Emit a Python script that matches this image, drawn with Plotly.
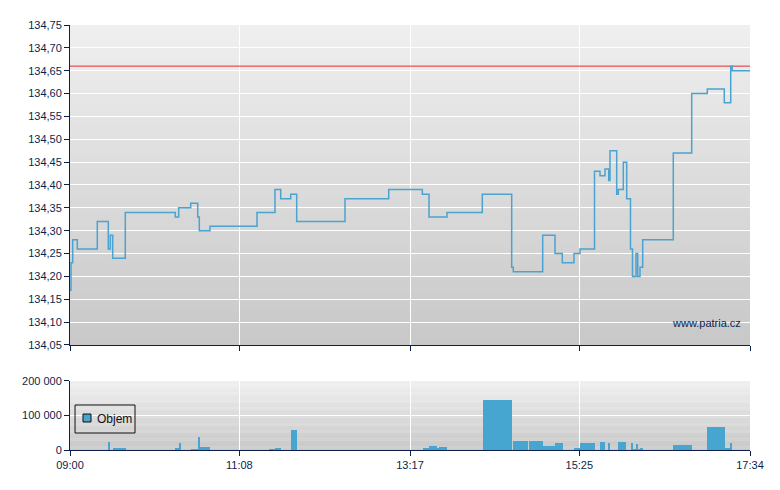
import plotly.graph_objects as go
import pandas as pd

DAY = "2024-01-15 "

# ---- price (step line) ----
price_times = [
    "09:00:00", "09:00:45", "09:02:02", "09:05:31", "09:20:38", "09:28:57", "09:30:28",
    "09:32:17", "09:41:48", "10:19:35", "10:22:10", "10:31:14", "10:36:32", "10:37:44",
    "10:45:49", "11:21:21", "11:34:57", "11:39:16", "11:46:49", "11:51:21", "12:27:52",
    "13:00:54", "13:26:18", "13:31:22", "13:44:58", "14:11:39", "14:33:52", "14:35:05",
    "14:57:18", "15:06:36", "15:12:07", "15:20:58", "15:25:30", "15:36:28", "15:40:37",
    "15:44:24", "15:47:12", "15:48:10", "15:53:14", "15:54:27", "15:58:14", "16:00:48",
    "16:03:40", "16:05:11", "16:07:50", "16:09:07", "16:10:51", "16:12:53", "16:36:01",
    "16:49:56", "17:01:43", "17:14:34", "17:19:25", "17:20:37", "17:34:00",
]
price_values = [
    134.17, 134.23, 134.28, 134.26, 134.32, 134.26, 134.29,
    134.24, 134.34, 134.33, 134.35, 134.36, 134.33, 134.30,
    134.31, 134.34, 134.39, 134.37, 134.38, 134.32, 134.37,
    134.39, 134.38, 134.33, 134.34, 134.38, 134.22, 134.21,
    134.29, 134.25, 134.23, 134.25, 134.26, 134.43, 134.42,
    134.435, 134.41, 134.475, 134.38, 134.39, 134.45, 134.37,
    134.26, 134.20, 134.25, 134.20, 134.22, 134.28, 134.47,
    134.60, 134.61, 134.58, 134.66, 134.65, 134.65,
]
prev_close = 134.66

# ---- volume (bars spanning trade intervals) ----
vol_start = [
    "09:28:43", "09:32:30", "10:19:22", "10:22:23", "10:31:28", "10:36:45", "10:38:16",
    "11:30:25", "11:34:57", "11:47:03", "13:27:03", "13:31:22", "13:37:38", "13:38:55",
    "14:12:11", "14:34:51", "14:46:57", "14:57:32", "15:06:36", "15:20:58", "15:25:30",
    "15:40:37", "15:46:40", "15:54:13", "16:04:03", "16:05:34", "16:07:50", "16:09:20",
    "16:10:51", "16:35:48", "17:01:30", "17:15:06", "17:19:38",
]
vol_end = [
    "09:30:14", "09:42:20", "10:22:23", "10:23:54", "10:36:45", "10:38:16", "10:45:49",
    "11:34:57", "11:39:29", "11:51:35", "13:31:22", "13:37:38", "13:38:55", "13:44:58",
    "14:34:05", "14:46:11", "14:57:32", "15:06:36", "15:12:39", "15:25:30", "15:36:50",
    "15:44:24", "15:48:10", "16:00:16", "16:05:34", "16:07:50", "16:09:20", "16:10:51",
    "16:13:07", "16:50:10", "17:15:06", "17:19:38", "17:20:24",
]
vol_values = [
    23000, 5700, 5700, 20000, 2900, 37000, 8600,
    2900, 5700, 57000, 5800, 11500, 5800, 8700,
    146000, 25700, 25700, 11400, 20000, 5700, 20000,
    22900, 20000, 22900, 20000, 2900, 17000, 2900,
    5700, 14400, 66300, 5800, 20000,
]

tick_times = ["09:00", "11:08", "13:17", "15:25", "17:34"]
price_ticks = [134.05, 134.10, 134.15, 134.20, 134.25, 134.30, 134.35,
               134.40, 134.45, 134.50, 134.55, 134.60, 134.65, 134.70, 134.75]
vol_ticks = [0, 100000, 200000]

# ---------------------------------------------------------------
px_t = pd.to_datetime([DAY + t for t in price_times])
vs = pd.to_datetime([DAY + t for t in vol_start])
ve = pd.to_datetime([DAY + t for t in vol_end])
widths_ms = [(b - a).total_seconds() * 1000 for a, b in zip(vs, ve)]
ticks = pd.to_datetime([DAY + t for t in tick_times])
x_range = [ticks[0], ticks[-1]]

NAVY = "#0b1f4f"
LINE_BLUE = "#4aa3d0"
BAR_BLUE = "#46a6d0"
FONT = "Liberation Sans"

fig = go.Figure()

fig.add_trace(go.Scatter(
    x=[x_range[0], x_range[1]], y=[prev_close, prev_close],
    mode="lines", line=dict(color="#e82828", width=1),
    xaxis="x", yaxis="y", showlegend=False, hoverinfo="skip",
))
fig.add_trace(go.Scatter(
    x=px_t, y=price_values, mode="lines",
    line=dict(color=LINE_BLUE, width=1.5, shape="hv"),
    xaxis="x", yaxis="y", showlegend=False, name="Cena",
))
fig.add_trace(go.Bar(
    x=vs, y=vol_values, width=widths_ms, offset=0,
    marker=dict(color=BAR_BLUE, line=dict(width=0)),
    xaxis="x2", yaxis="y2", showlegend=False, name="Objem",
))

# gradient backgrounds
def gradient(xref, yref, top=(0xef, 0xef, 0xef), bottom=(0xc8, 0xc8, 0xc8), n=60):
    shapes = []
    for i in range(n):
        f = i / (n - 1)
        c = [round(bottom[k] + (top[k] - bottom[k]) * f) for k in range(3)]
        shapes.append(dict(
            type="rect", xref=xref, yref=yref, x0=0, x1=1,
            y0=i / n, y1=min(1, (i + 1) / n + 0.004),
            fillcolor="rgb(%d,%d,%d)" % tuple(c), line=dict(width=0),
            layer="below",
        ))
    return shapes

shapes = gradient("x domain", "y domain") + gradient("x2 domain", "y2 domain")

# custom legend box (paper coords of the plotting area)
shapes.append(dict(type="rect", xref="paper", yref="paper",
                   x0=0.0074, x1=0.0956, y0=0.040, y1=0.1059,
                   line=dict(color="#111111", width=1), fillcolor="rgba(0,0,0,0)",
                   layer="above"))
shapes.append(dict(type="rect", xref="paper", yref="paper",
                   x0=0.0191, x1=0.0309, y0=0.0659, y1=0.0847,
                   line=dict(color="#111111", width=1), fillcolor=BAR_BLUE,
                   layer="above"))

axis_common = dict(
    showline=True, linecolor=NAVY, linewidth=1, mirror=False,
    ticks="outside", ticklen=5, tickcolor=NAVY, tickwidth=1,
    gridcolor="#ffffff", gridwidth=1, zeroline=False,
    tickfont=dict(family=FONT, size=11, color=NAVY),
)

fig.update_layout(
    width=780, height=490,
    margin=dict(l=62, r=38, t=17, b=48),
    paper_bgcolor="#ffffff", plot_bgcolor="rgba(0,0,0,0)",
    separators=", ",
    font=dict(family=FONT, size=11, color=NAVY),
    shapes=shapes,
    showlegend=False,
    xaxis=dict(
        axis_common, type="date", range=x_range, tickvals=ticks,
        showticklabels=False, anchor="y", domain=[0, 1],
    ),
    yaxis=dict(
        axis_common, range=[134.05, 134.75], tickvals=price_ticks,
        tickformat=".2f", domain=[0.2471, 1.0], anchor="x",
    ),
    xaxis2=dict(
        axis_common, type="date", range=x_range, tickvals=ticks,
        tickformat="%H:%M", matches="x", anchor="y2", domain=[0, 1],
    ),
    yaxis2=dict(
        axis_common, range=[0, 200000], tickvals=vol_ticks,
        tickformat=",d", domain=[0, 0.1624], anchor="x2",
    ),
    annotations=[
        dict(text="www.patria.cz", xref="paper", yref="paper",
             x=0.9897, y=0.2988, xanchor="right", yanchor="middle",
             showarrow=False, font=dict(family=FONT, size=11, color=NAVY)),
        dict(text="Objem", xref="paper", yref="paper",
             x=0.0368, y=0.0729, xanchor="left", yanchor="middle",
             showarrow=False, font=dict(family=FONT, size=12, color="#111111")),
    ],
    bargap=0,
)

fig.write_html("out.html")
